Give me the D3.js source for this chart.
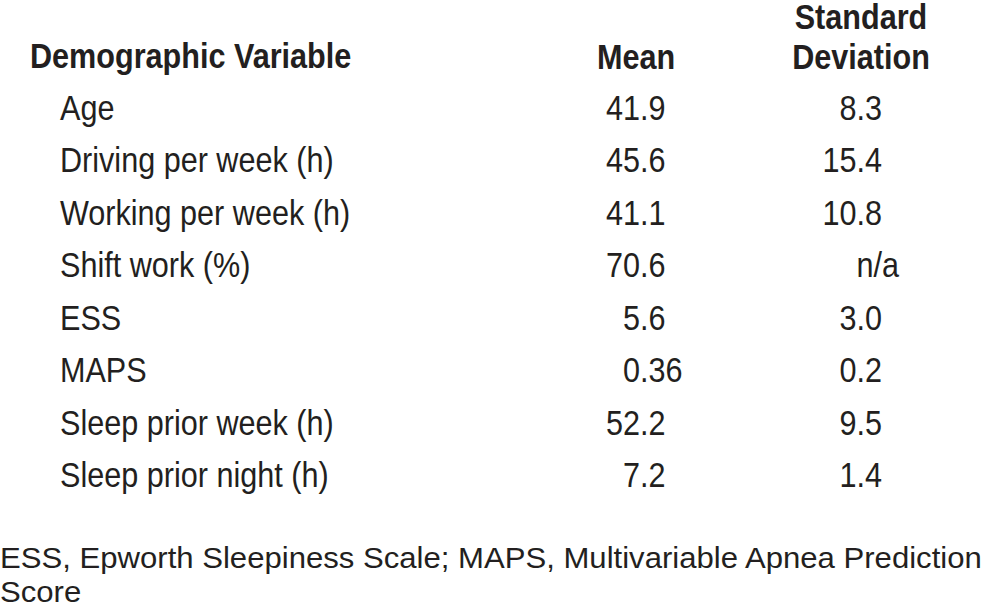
<!DOCTYPE html>
<html>
<head>
<meta charset="utf-8">
<script src="https://cdn.jsdelivr.net/npm/d3@7"></script>
<style>
  body { margin: 0; background: #fff; }
  svg { display: block; }
  text { fill: #231f20; }
</style>
</head>
<body>
<div id="table"></div>
<script>
// Table content
const variables = ["Age", "Driving per week (h)", "Working per week (h)", "Shift work (%)",
  "ESS", "MAPS", "Sleep prior week (h)", "Sleep prior night (h)"]
const means = ["41.9", "45.6", "41.1", "70.6", "5.6", "0.36", "52.2", "7.2"]
const sds = ["8.3", "15.4", "10.8", "n/a", "3.0", "0.2", "9.5", "1.4"]
const headVariable = "Demographic Variable"
const headMean = "Mean"
const headSd = ["Standard", "Deviation"]
const footnote = ["ESS, Epworth Sleepiness Scale; MAPS, Multivariable Apnea Prediction", "Score"]

const dimensions = { width: 987, height: 614 }

const wrapper = d3.select("#table")
  .append("svg")
  .attr("width", dimensions.width)
  .attr("height", dimensions.height)

// check if a narrow face exists, otherwise squeeze the regular one
const narrow = "'Liberation Sans Narrow', 'Arial Narrow'"
function measure(family) {
  const t = wrapper.append("text").attr("font-family", family).attr("font-size", 100).text("Demographic 0123")
  const w = t.node().getComputedTextLength()
  t.remove()
  return w
}
const hasNarrow = measure(narrow + ", monospace") !== measure("monospace")
const family = hasNarrow ? narrow + ", sans-serif" : "'Liberation Sans', Arial, sans-serif"
const sx = hasNarrow ? 1.04 : 0.85
const regular = "'Liberation Sans', Arial, sans-serif"

function put(sel, x, y, txt, opts = {}) {
  return sel.append("text")
    .attr("transform", `translate(${x},${y}) scale(${opts.sx || sx},1)`)
    .attr("font-family", opts.family || family)
    .attr("font-size", opts.size || 36)
    .attr("font-weight", opts.bold ? "bold" : "normal")
    .attr("text-anchor", opts.anchor || "start")
    .text(txt)
}

// Scales
const yScale = d3.scalePoint()
  .domain(variables)
  .range([120, 487])

const xCol = { head: 30, label: 60, meanDec: 640, sdDec: 856.5, meanHead: 636, sdHead: 861 }

// Header
const head = wrapper.append("g")
put(head, xCol.head, 68, headVariable, { bold: true })
put(head, xCol.meanHead, 69, headMean, { bold: true, anchor: "middle" })
put(head, xCol.sdHead, 29, headSd[0], { bold: true, anchor: "middle" })
put(head, xCol.sdHead, 69, headSd[1], { bold: true, anchor: "middle" })

// Rows
const rows = wrapper.append("g")
function decimal(sel, dec, y, v) {
  const parts = v.split(".")
  if (parts.length < 2) {
    put(sel, dec, y, v)
    return
  }
  put(sel, dec, y, parts[0], { anchor: "end" })
  put(sel, dec, y, "." + parts[1])
}
variables.forEach((v, i) => {
  const y = yScale(v)
  put(rows, xCol.label, y, v)
  decimal(rows, xCol.meanDec, y, means[i])
  decimal(rows, xCol.sdDec, y, sds[i])
})

// Footnote
const foot = wrapper.append("g")
footnote.forEach((line, i) => {
  put(foot, 0, 568 + i * 34, line, { size: 30, family: regular, sx: 1.037 })
})
</script>
</body>
</html>
